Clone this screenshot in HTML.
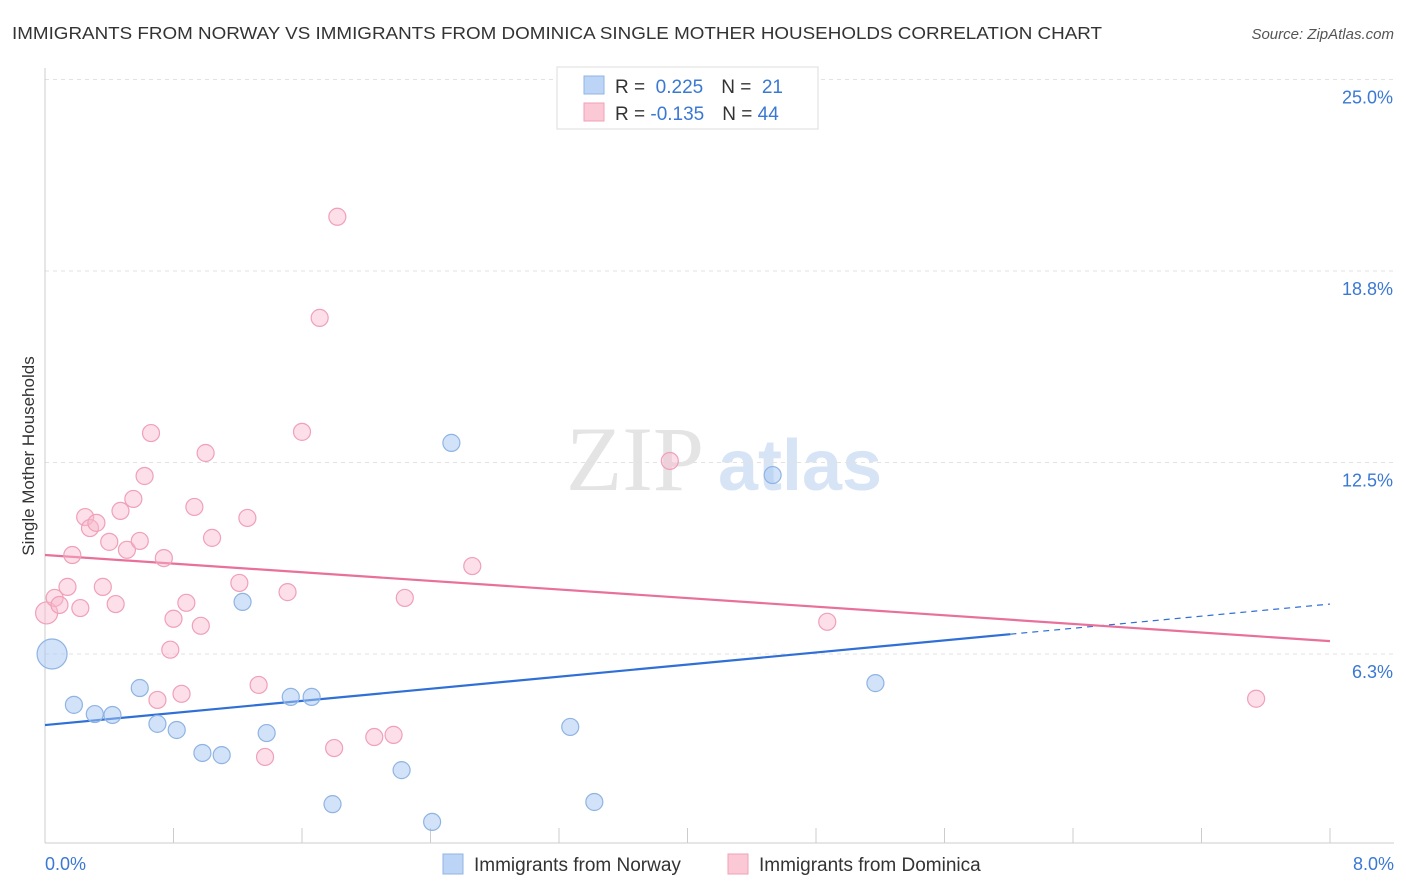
<!DOCTYPE html>
<html><head><meta charset="utf-8"><style>
body{margin:0;background:#fff;font-family:"Liberation Sans",sans-serif;}
svg{display:block}
</style></head><body>
<svg id="chart" width="1406" height="892" xmlns="http://www.w3.org/2000/svg">
<text x="12" y="39" font-size="17.5" fill="#333" textLength="1090" lengthAdjust="spacingAndGlyphs">IMMIGRANTS FROM NORWAY VS IMMIGRANTS FROM DOMINICA SINGLE MOTHER HOUSEHOLDS CORRELATION CHART</text>
<text x="1394" y="39" font-size="15" fill="#555" text-anchor="end" font-style="italic">Source: ZipAtlas.com</text>
<g>
<text x="635" y="490" font-size="92" fill="#e4e4e4" text-anchor="middle" font-family="Liberation Serif,serif">ZIP</text>
<text x="800" y="490" font-size="72" fill="#d6e4f6" text-anchor="middle" font-weight="bold">atlas</text>
</g>
<g id="grid"></g><g id="axes"></g><g id="lines"></g><g id="pts"></g>
<text transform="translate(34,456) rotate(-90)" font-size="17" fill="#333" text-anchor="middle">Single Mother Households</text>
<g>
<rect x="557" y="67" width="261" height="62" fill="#fff" stroke="#ddd"/>
<rect x="584" y="76" width="20" height="18" fill="#bcd4f5" stroke="#8fb4e3"/>
<rect x="584" y="103" width="20" height="18" fill="#fbc8d6" stroke="#f0a0b8"/>
<text x="615" y="93" font-size="19" fill="#333">R = <tspan fill="#3a78d4">&#160;0.225</tspan><tspan dx="18">N = </tspan><tspan fill="#3a78d4">&#160;21</tspan></text>
<text x="615" y="120" font-size="19" fill="#333">R = <tspan fill="#3a78d4">-0.135</tspan><tspan dx="18">N = </tspan><tspan fill="#3a78d4">44</tspan></text>
</g>
<g>
<rect x="443" y="854" width="20" height="20" fill="#bcd4f5" stroke="#8fb4e3"/>
<text x="474" y="871" font-size="19" fill="#333">Immigrants from Norway</text>
<rect x="728" y="854" width="20" height="20" fill="#fbc8d6" stroke="#f0a0b8"/>
<text x="759" y="871" font-size="19" fill="#333">Immigrants from Dominica</text>
</g>
</svg>
<script>
const yTicks=[6.3,12.5,18.8,25.0];
const yTickPos=[6.25,12.5,18.75,25];
const xTickLabels=["0.0%","8.0%"];
const norwayX=[0.044,0.18,0.31,0.42,0.59,0.70,0.82,0.98,1.10,1.23,1.38,1.53,1.66,1.79,2.22,2.41,2.53,3.27,3.42,4.53,5.17];
const norwayY=[6.25,4.59,4.29,4.26,5.14,3.97,3.77,3.02,2.95,7.95,3.67,4.85,4.85,1.35,2.46,0.77,13.14,3.87,1.42,12.09,5.30];
const dominicaX=[0.01,0.06,0.09,0.14,0.17,0.22,0.25,0.28,0.32,0.36,0.40,0.44,0.47,0.51,0.55,0.59,0.62,0.66,0.70,0.74,0.78,0.80,0.85,0.88,0.93,0.97,1.00,1.04,1.21,1.26,1.33,1.37,1.51,1.60,1.71,1.80,1.82,2.05,2.17,2.24,2.66,3.89,4.87,7.54];
const dominicaY=[7.59,8.08,7.85,8.44,9.48,7.75,10.72,10.36,10.53,8.44,9.91,7.88,10.92,9.65,11.31,9.94,12.06,13.46,4.75,9.38,6.39,7.40,4.95,7.92,11.05,7.17,12.81,10.04,8.57,10.69,5.24,2.89,8.27,13.50,17.22,3.18,20.52,3.54,3.61,8.08,9.12,12.55,7.30,4.79];
const norwayTrend=[3.93,7.88];
const dominicaTrend=[9.48,6.67];
const norwaySolidEnd=6.01;
const NS="http://www.w3.org/2000/svg";
const X=v=>45+v/8*1285, Y=v=>845.5-v*30.64;
function mk(t,a,p){const e=document.createElementNS(NS,t);for(const k in a)e.setAttribute(k,a[k]);document.getElementById(p).appendChild(e);return e;}
yTicks.forEach((t,i)=>{
 const g=mk('line',{x1:45,x2:1394,y1:Y(yTickPos[i]),y2:Y(yTickPos[i]),stroke:'#e2e2e2','stroke-dasharray':'4,4'},'grid');
 
 
 const l=mk('text',{x:1393,y:Y(yTickPos[i])+24,'font-size':18,fill:'#3a78d4','text-anchor':'end'},'grid');
 l.textContent=t.toFixed(1)+'%';
 
 
});
const ax=mk('line',{x1:45,x2:45,y1:68,y2:843,stroke:'#ccc'},'axes');


const bx=mk('line',{x1:45,x2:1394,y1:843,y2:843,stroke:'#ccc'},'axes');


for(let i=1;i<=10;i++){const t=mk('line',{x1:X(i*0.8),x2:X(i*0.8),y1:828,y2:843,stroke:'#ccc'},'axes');
 
 }
[[0,'start',45],[8,'end',1394]].forEach((d,i)=>{const t=mk('text',{x:d[2],y:870,'font-size':18,fill:'#3a78d4','text-anchor':d[1]},'axes');t.textContent=xTickLabels[i];
 
 });
function ty(tr,x){return tr[0]+(tr[1]-tr[0])*x/8;}
let l1=mk('line',{x1:X(0),y1:Y(ty(norwayTrend,0)),x2:X(norwaySolidEnd),y2:Y(ty(norwayTrend,norwaySolidEnd)),stroke:'#2f6fd6','stroke-width':2.2},'lines');


let l2=mk('line',{x1:X(norwaySolidEnd),y1:Y(ty(norwayTrend,norwaySolidEnd)),x2:X(8),y2:Y(ty(norwayTrend,8)),stroke:'#2f6fd6','stroke-width':1.2,'stroke-dasharray':'6,5'},'lines');


let l3=mk('line',{x1:X(0),y1:Y(ty(dominicaTrend,0)),x2:X(8),y2:Y(ty(dominicaTrend,8)),stroke:'#e8709a','stroke-width':2.2},'lines');


dominicaX.forEach((x,i)=>{const c=mk('circle',{cx:X(x),cy:Y(dominicaY[i]),r:i==0?11:8.5,fill:'rgba(248,185,205,0.45)',stroke:'#f0a0b8','stroke-width':1.2},'pts');
 
 });
norwayX.forEach((x,i)=>{const c=mk('circle',{cx:X(x),cy:Y(norwayY[i]),r:i==0?15:8.5,fill:'rgba(165,198,242,0.5)',stroke:'#8fb4e3','stroke-width':1.2},'pts');
 
 });
</script>
</body></html>
